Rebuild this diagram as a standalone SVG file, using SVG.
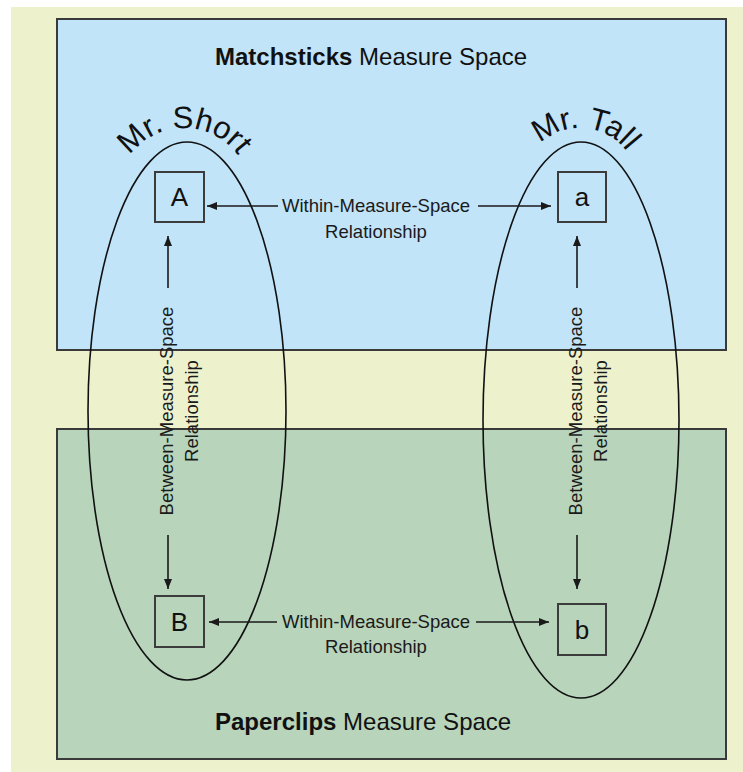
<svg xmlns="http://www.w3.org/2000/svg" width="743" height="772" viewBox="0 0 743 772">
<style>
.space{stroke:#3a3a3a;stroke-width:2}
.title{font-family:"Liberation Sans",Arial,sans-serif;font-size:24px;fill:#111}
.lbl{font-family:"Liberation Sans",Arial,sans-serif;font-size:18.5px;fill:#1a1a1a;text-anchor:middle}
.box{fill:none;stroke:#3c3c3c;stroke-width:2}
.boxt{font-family:"Liberation Sans",Arial,sans-serif;font-size:26px;fill:#111;text-anchor:middle}
.ell{fill:none;stroke:#111;stroke-width:1.6}
.curve{font-family:"Liberation Sans",Arial,sans-serif;font-size:31px;fill:#111}
.arr{stroke:#1a1a1a;stroke-width:1.6;fill:none;marker-end:url(#ah)}
</style>
<defs>
<marker id="ah" viewBox="0 0 10 8" refX="10" refY="4" markerWidth="10" markerHeight="8" markerUnits="userSpaceOnUse" orient="auto">
<path d="M0,0 L10,4 L0,8 Z" fill="#1a1a1a"/>
</marker>
<path id="arcShort" d="M117,195 A67,67 0 0 1 251,195"/>
<path id="arcTall" d="M522.2,180.9 A58,58 0 0 1 637.8,191.1"/>
</defs>
<rect x="11" y="7" width="732" height="765" fill="#edf2cd"/>
<g id="matchsticks-space">
<rect class="space" x="57" y="19" width="669" height="331" fill="#c1e4f8"/>
<text class="title" x="215" y="65"><tspan font-weight="bold">Matchsticks</tspan> Measure Space</text>
</g>
<g id="paperclips-space">
<rect class="space" x="57" y="429" width="669" height="330" fill="#b8d4bb"/>
<text class="title" x="215" y="730"><tspan font-weight="bold">Paperclips</tspan> Measure Space</text>
</g>
<g id="mr-short">
<ellipse class="ell" cx="187" cy="411" rx="99" ry="269"/>
<text class="curve"><textPath href="#arcShort" startOffset="50%" text-anchor="middle">Mr. Short</textPath></text>
</g>
<g id="mr-tall">
<ellipse class="ell" cx="581" cy="420" rx="98" ry="278"/>
<text class="curve"><textPath href="#arcTall" startOffset="50%" text-anchor="middle">Mr. Tall</textPath></text>
</g>
<g id="node-A">
<rect class="box" x="155" y="172" width="49" height="50"/>
<text class="boxt" x="179.5" y="206">A</text>
</g>
<g id="node-a">
<rect class="box" x="558" y="172" width="48" height="50"/>
<text class="boxt" x="582" y="206">a</text>
</g>
<g id="node-B">
<rect class="box" x="155" y="596" width="49" height="51"/>
<text class="boxt" x="179.5" y="631">B</text>
</g>
<g id="node-b">
<rect class="box" x="558" y="604" width="48" height="51"/>
<text class="boxt" x="582" y="639">b</text>
</g>
<g id="connectors">
<line class="arr" x1="278" y1="206" x2="207" y2="206"/>
<line class="arr" x1="478" y1="206" x2="551" y2="206"/>
<text class="lbl" x="376" y="212">Within-Measure-Space</text>
<text class="lbl" x="376" y="238">Relationship</text>
<line class="arr" x1="277" y1="622" x2="209" y2="622"/>
<line class="arr" x1="476" y1="622" x2="549" y2="622"/>
<text class="lbl" x="376" y="628">Within-Measure-Space</text>
<text class="lbl" x="376" y="653">Relationship</text>
<line class="arr" x1="168" y1="288" x2="168" y2="236"/>
<line class="arr" x1="168" y1="535" x2="168" y2="589"/>
<text class="lbl" transform="translate(173,411) rotate(-90)">Between-Measure-Space</text>
<text class="lbl" transform="translate(198,411) rotate(-90)">Relationship</text>
<line class="arr" x1="577" y1="288" x2="577" y2="236"/>
<line class="arr" x1="577" y1="535" x2="577" y2="589"/>
<text class="lbl" transform="translate(582,411) rotate(-90)">Between-Measure-Space</text>
<text class="lbl" transform="translate(607,411) rotate(-90)">Relationship</text>
</g>
</svg>
